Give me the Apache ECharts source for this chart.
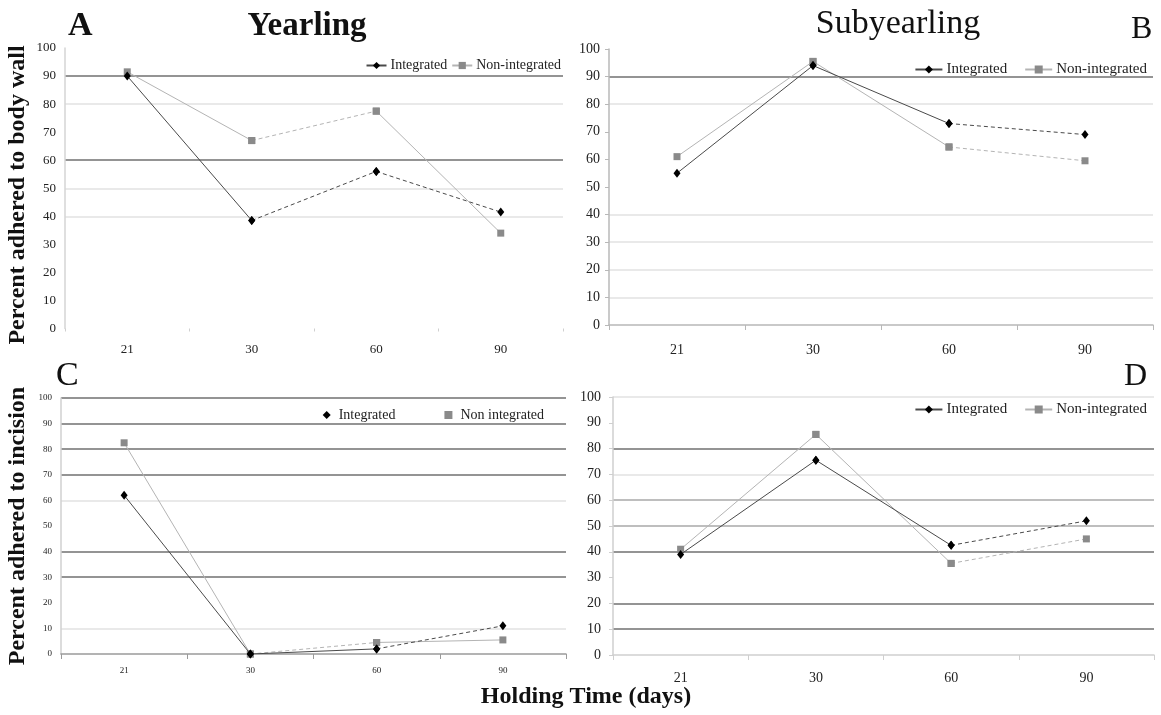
<!DOCTYPE html>
<html><head><meta charset="utf-8">
<script src="https://cdn.jsdelivr.net/npm/echarts@6/dist/echarts.min.js"></script>
<style>html,body{margin:0;padding:0;background:#fff}#c{width:1161px;height:715px}</style>
</head><body><div id="c"></div>
<script>
// ---- data ----
const categories = ['21', '30', '60', '90'];
const yTickStep = 10;
const yMax = 100;

const yearlingBodyIntegrated = [90, 38.5, 56, 41.5];
const yearlingBodyNonIntegrated = [91.5, 67, 77.5, 34];
const subyearlingBodyIntegrated = [55, 94, 73, 69];
const subyearlingBodyNonIntegrated = [61, 95.5, 64.5, 59.5];
const yearlingIncisionIntegrated = [62, 0, 2, 11];
const yearlingIncisionNonIntegrated = [82.5, 0, 4.5, 5.5];
const subyearlingIncisionIntegrated = [39, 75.5, 42.5, 52];
const subyearlingIncisionNonIntegrated = [41, 85.5, 35.5, 45];

// segment styles (s = solid, d = dashed)
const segA_int = ['s', 'd', 'd'], segA_non = ['s', 'd', 's'];
const segB_int = ['s', 's', 'd'], segB_non = ['s', 's', 'd'];
const segC_int = ['s', 's', 'd'], segC_non = ['s', 'd', 's'];
const segD_int = ['s', 's', 'd'], segD_non = ['s', 's', 'd'];

// ---- styling ----
const SERIF = '"Liberation Serif", "Times New Roman", serif';
const N = 'rgba(0,0,0,0)', L = '#e2e2e2', M = '#a8a8a8', K = '#707070';
const gridColors = [
  [N, N, N, N, L, L, K, N, L, K, N],   // A
  [N, L, L, L, L, N, N, N, L, K, N],   // B
  [N, L, N, K, K, N, L, K, K, K, K],   // C
  [N, K, K, N, K, M, M, L, K, N, L]    // D
];
const grids = [
  {left: 65, top: 48, width: 498, height: 280.5},
  {left: 609, top: 49, width: 544, height: 276},
  {left: 61, top: 398, width: 505, height: 256},
  {left: 613, top: 397, width: 541, height: 258}
];
const fs = [13, 14, 9, 14];
const xMargin = [15, 18, 12, 16];
const yMargin = [9, 9, 9, 12];
const yAxisLineColor = ['#d4d4d4', '#b8b8b8', '#d0d0d0', '#cfcfcf'];
const xAxisLineColor = [N, '#b8b8b8', '#9a9a9a', '#cfcfcf'];
const showYTick = [false, true, false, true];

function segSeries(name, values, types, gi, isInt) {
  return types.map((t, k) => ({
    type: 'line', name: name, xAxisIndex: gi, yAxisIndex: gi,
    data: values.map((v, i) => (i === k || i === k + 1) ? v : '-'),
    symbol: isInt ? 'diamond' : 'rect',
    symbolSize: isInt ? [7, 9] : 7,
    showSymbol: true,
    itemStyle: {color: isInt ? '#000' : '#8a8a8a'},
    lineStyle: {color: isInt ? '#4a4a4a' : '#b4b4b4', width: 1, type: t === 'd' ? [4, 3] : 'solid'},
    z: isInt ? 3 : 2,
    silent: true, animation: false
  }));
}

const series = [].concat(
  segSeries('Integrated', yearlingBodyIntegrated, segA_int, 0, true),
  segSeries('Non-integrated', yearlingBodyNonIntegrated, segA_non, 0, false),
  segSeries('Integrated', subyearlingBodyIntegrated, segB_int, 1, true),
  segSeries('Non-integrated', subyearlingBodyNonIntegrated, segB_non, 1, false),
  segSeries('Integrated', yearlingIncisionIntegrated, segC_int, 2, true),
  segSeries('Non integrated', yearlingIncisionNonIntegrated, segC_non, 2, false),
  segSeries('Integrated', subyearlingIncisionIntegrated, segD_int, 3, true),
  segSeries('Non-integrated', subyearlingIncisionNonIntegrated, segD_non, 3, false)
);

const xAxis = grids.map((g, i) => ({
  type: 'category', gridIndex: i, data: categories, boundaryGap: true,
  axisLine: {show: i !== 0, lineStyle: {color: xAxisLineColor[i], width: 1.5}},
  axisTick: {show: true, length: i === 0 ? 3 : 5, lineStyle: {color: i === 0 ? '#cfcfcf' : xAxisLineColor[i]}},
  axisLabel: {fontFamily: SERIF, fontSize: fs[i], color: '#222', margin: xMargin[i]},
  splitLine: {show: false}
}));
const yAxis = grids.map((g, i) => ({
  type: 'value', gridIndex: i, min: 0, max: yMax, interval: yTickStep,
  axisLine: {show: true, lineStyle: {color: yAxisLineColor[i], width: 1.5}},
  axisTick: {show: showYTick[i], length: 4, lineStyle: {color: yAxisLineColor[i]}},
  axisLabel: {fontFamily: SERIF, fontSize: fs[i], color: '#222', margin: yMargin[i]},
  splitLine: {show: true, lineStyle: {color: gridColors[i], width: 1.5}}
}));

const legends = [
  {right: 600, top: 58.5, itemWidth: 20, itemHeight: 9, itemGap: 4, fontSize: 14, pad: -1,
   data: ['Integrated', 'Non-integrated']},
  {right: 14, top: 62, itemWidth: 27, itemHeight: 10, itemGap: 17, fontSize: 15, pad: -1,
   data: ['Integrated', 'Non-integrated']},
  {right: 617, top: 408, itemWidth: 8, itemHeight: 8, itemGap: 49, fontSize: 14, pad: 3,
   data: [{name: 'Integrated', icon: 'diamond'}, {name: 'Non integrated', icon: 'rect'}]},
  {right: 14, top: 402, itemWidth: 27, itemHeight: 10, itemGap: 17, fontSize: 15, pad: -1,
   data: ['Integrated', 'Non-integrated']}
].map(l => ({
  right: l.right, top: l.top, orient: 'horizontal', padding: 0,
  itemWidth: l.itemWidth, itemHeight: l.itemHeight, itemGap: l.itemGap,
  selectedMode: false, data: l.data,
  textStyle: {fontFamily: SERIF, fontSize: l.fontSize, color: '#222', padding: [0, 0, 0, l.pad]}
}));

function txt(text, x, y, font, align, rot) {
  return {type: 'text', x: x, y: y, rotation: rot || 0, silent: true,
    style: {text: text, font: font, fill: '#111', align: align, verticalAlign: 'middle',
      textAlign: align, textVerticalAlign: 'middle'}};
}
const graphic = [
  txt('A', 68, 26, 'bold 34px ' + SERIF, 'left'),
  txt('Yearling', 307, 26, 'bold 33px ' + SERIF, 'center'),
  txt('Subyearling', 898, 24, '34px ' + SERIF, 'center'),
  txt('B', 1131, 30, '32px ' + SERIF, 'left'),
  txt('C', 56, 376, '34px ' + SERIF, 'left'),
  txt('D', 1124, 377, '32px ' + SERIF, 'left'),
  txt('Holding Time (days)', 586, 697, 'bold 24px ' + SERIF, 'center'),
  txt('Percent adhered to body wall', 18, 195, 'bold 24px ' + SERIF, 'center', Math.PI / 2),
  txt('Percent adhered to incision', 18, 526, 'bold 24px ' + SERIF, 'center', Math.PI / 2)
];

const chart = echarts.init(document.getElementById('c'), null, {renderer: 'canvas'});
chart.setOption({
  animation: false,
  backgroundColor: '#fff',
  grid: grids,
  xAxis: xAxis,
  yAxis: yAxis,
  legend: legends,
  series: series,
  graphic: graphic
});
</script></body></html>
